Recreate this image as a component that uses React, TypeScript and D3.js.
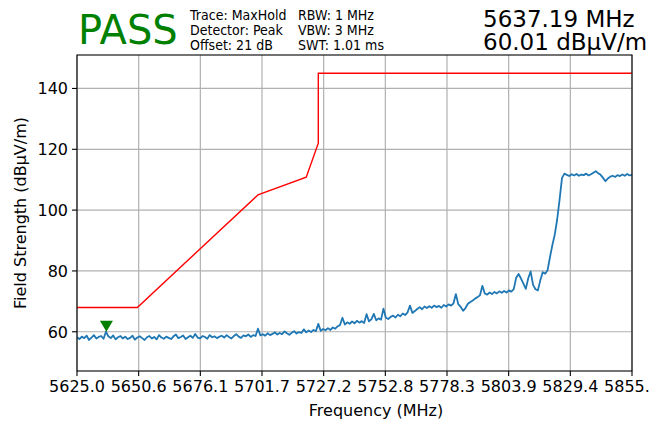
import * as React from "react"
import * as d3 from "d3"

// trace: MaxHold, 1 MHz steps from 5625 MHz
const traceStart = 5625
const traceValues = [
    58.2, 57.6, 58.4, 57.9, 58.7, 57.3, 58.1, 58.9, 57.8, 58.3,
    58.6, 57.7, 60.0, 58.5, 57.9, 58.8, 57.5, 58.2, 58.6, 57.8,
    58.4, 57.6, 58.0, 58.7, 57.4, 58.1, 58.5, 57.9, 57.3, 58.2,
    58.6, 57.8, 58.3, 57.5, 58.9, 58.1, 57.7, 58.4, 58.0, 57.6,
    58.5, 59.1, 57.9, 58.3, 58.8, 57.6, 58.2, 58.7, 58.0, 59.3,
    58.1, 57.8, 58.6, 58.3, 57.7, 58.9, 58.2, 58.5, 57.9, 58.4,
    58.7, 58.1, 58.9, 58.3, 57.8, 58.6, 59.2, 58.4, 58.0, 58.8,
    58.5, 59.1, 58.3, 58.9, 58.6, 61.0, 58.8, 59.2, 58.7, 59.5,
    58.9, 59.3, 59.8, 59.1, 59.6, 59.2, 60.1, 59.5, 59.0, 59.7,
    60.2, 59.4, 59.9, 59.6, 60.8, 59.8, 60.4, 59.9, 60.6, 60.2,
    62.6, 60.3, 60.9, 60.5, 61.2, 60.6, 61.4, 61.0, 61.8, 62.2,
    64.6, 62.4, 63.1, 62.6, 63.4, 62.8, 63.6, 63.0, 63.5, 62.9,
    65.8, 63.4, 64.1, 65.9, 63.8, 64.4, 64.0, 67.6, 64.6, 64.2,
    64.9, 65.3, 64.7, 65.6, 65.1, 66.0, 65.5, 66.4, 68.6, 66.2,
    66.8, 67.5, 68.1, 67.4, 68.3, 67.8, 68.4, 67.9, 68.6, 68.1,
    68.5, 67.9, 68.8, 68.3, 69.0, 68.6, 69.3, 72.4, 69.1, 68.2,
    66.9, 67.8, 69.2, 69.8, 70.3, 70.9, 71.4, 72.0, 75.1, 72.6,
    72.2, 72.9, 72.4, 73.1, 72.6, 73.3, 72.8, 73.4, 72.9, 73.6,
    73.2, 74.0, 77.8, 79.0, 77.5, 75.8, 74.1, 77.6, 79.8, 75.4,
    74.0, 73.6, 76.9, 79.6, 79.1, 80.2, 84.5, 88.5, 92.0, 97.0,
    103.5, 110.6, 112.0, 111.6, 111.2, 111.8, 111.4, 111.9, 111.3, 111.7,
    111.5, 112.0, 111.4, 111.8, 112.3, 112.8, 112.1, 111.6, 110.6, 109.5,
    110.4, 111.0, 111.3, 110.9, 111.5, 111.2, 111.7, 111.3, 111.9, 111.4,
    111.6,
]

// limit line
const limitFreqs = [5625, 5650, 5700, 5720, 5725, 5725, 5855]
const limitValues = [68, 68, 105, 110.8, 122, 145, 145]

const xTickLabels = ["5625.0", "5650.6", "5676.1", "5701.7", "5727.2", "5752.8", "5778.3", "5803.9", "5829.4", "5855.0"]
const yTicks = [60, 80, 100, 120, 140]

const markerFreq = 5637.19
const markerValue = 60.01

const verdict = "PASS"
const settingsLeft = ["Trace: MaxHold", "Detector: Peak", "Offset: 21 dB"]
const settingsRight = ["RBW: 1 MHz", "VBW: 3 MHz", "SWT: 1.01 ms"]
const readout = ["5637.19 MHz", "60.01 dBμV/m"]

const W = 650
const H = 423
const margin = { top: 55, right: 18, bottom: 52, left: 77 }
const font = "DejaVu Sans, sans-serif"

export default function App(): JSX.Element {
    const innerW = W - margin.left - margin.right
    const innerH = H - margin.top - margin.bottom

    const x = d3.scaleLinear().domain([5625, 5855]).range([0, innerW])
    const y = d3.scaleLinear().domain([47.1, 151]).range([innerH, 0])

    const xTicks = xTickLabels.map((_, i) => 5625 + (i * 230) / 9)

    const trace = d3.line<number>()
        .x((_, i) => x(traceStart + i))
        .y((d) => y(d))(traceValues)

    const limit = d3.line<number>()
        .x((_, i) => x(limitFreqs[i]))
        .y((d) => y(d))(limitValues)

    const mx = x(markerFreq)
    const my = y(markerValue)

    return (
        <svg width={W} height={H} style={{ position: "absolute", left: 0, top: 0, background: "#fff" }}
            fontFamily={font}>
            {/* header */}
            <text x={78} y={44} fontSize={40} fill="#008000">{verdict}</text>
            <g transform="translate(190,0) scale(0.87,1)">
                {settingsLeft.map((t, i) => (
                    <text key={t} x={0} y={20 + i * 15} fontSize={14.5} fill="#000">{t}</text>
                ))}
            </g>
            <g transform="translate(298,0) scale(0.87,1)">
                {settingsRight.map((t, i) => (
                    <text key={t} x={0} y={20 + i * 15} fontSize={14.5} fill="#000">{t}</text>
                ))}
            </g>
            {readout.map((t, i) => (
                <text key={t} x={483} y={27 + i * 23} fontSize={23} fill="#000">{t}</text>
            ))}

            <g transform={`translate(${margin.left},${margin.top})`}>
                {/* grid */}
                {xTicks.map((t, i) => (
                    <line key={"gx" + i} x1={x(t)} x2={x(t)} y1={0} y2={innerH} stroke="#b0b0b0" strokeWidth={1.2} />
                ))}
                {yTicks.map((t) => (
                    <line key={"gy" + t} x1={0} x2={innerW} y1={y(t)} y2={y(t)} stroke="#b0b0b0" strokeWidth={1.2} />
                ))}

                <clipPath id="plot-clip">
                    <rect x={0} y={0} width={innerW} height={innerH} />
                </clipPath>
                <g clipPath="url(#plot-clip)">
                    <path d={limit || ""} fill="none" stroke="#ff0000" strokeWidth={1.4} />
                    <path d={trace || ""} fill="none" stroke="#1f77b4" strokeWidth={1.8} strokeLinejoin="round" />
                </g>

                {/* marker */}
                <path d={`M${mx - 6.5},${my - 11}L${mx + 6.5},${my - 11}L${mx},${my}Z`} fill="#008000" />

                {/* frame */}
                <rect x={0} y={0} width={innerW} height={innerH} fill="none" stroke="#000" strokeWidth={1.1} />

                {/* x axis */}
                {xTicks.map((t, i) => (
                    <g key={"tx" + i} transform={`translate(${x(t)},${innerH})`}>
                        <line y1={0} y2={5} stroke="#000" strokeWidth={1.1} />
                        <text y={21} textAnchor="middle" fontSize={16} fill="#000">{xTickLabels[i]}</text>
                    </g>
                ))}
                {/* y axis */}
                {yTicks.map((t) => (
                    <g key={"ty" + t} transform={`translate(0,${y(t)})`}>
                        <line x1={0} x2={-5} stroke="#000" strokeWidth={1.1} />
                        <text x={-9} dy="0.36em" textAnchor="end" fontSize={16} fill="#000">{t}</text>
                    </g>
                ))}

                <text x={299} y={innerH + 45} textAnchor="middle" fontSize={16} fill="#000">Frequency (MHz)</text>
                <text transform={`translate(${-51},${innerH / 2}) rotate(-90)`} textAnchor="middle" fontSize={16} fill="#000">
                    Field Strength (dBμV/m)
                </text>
            </g>
        </svg>
    )
}
